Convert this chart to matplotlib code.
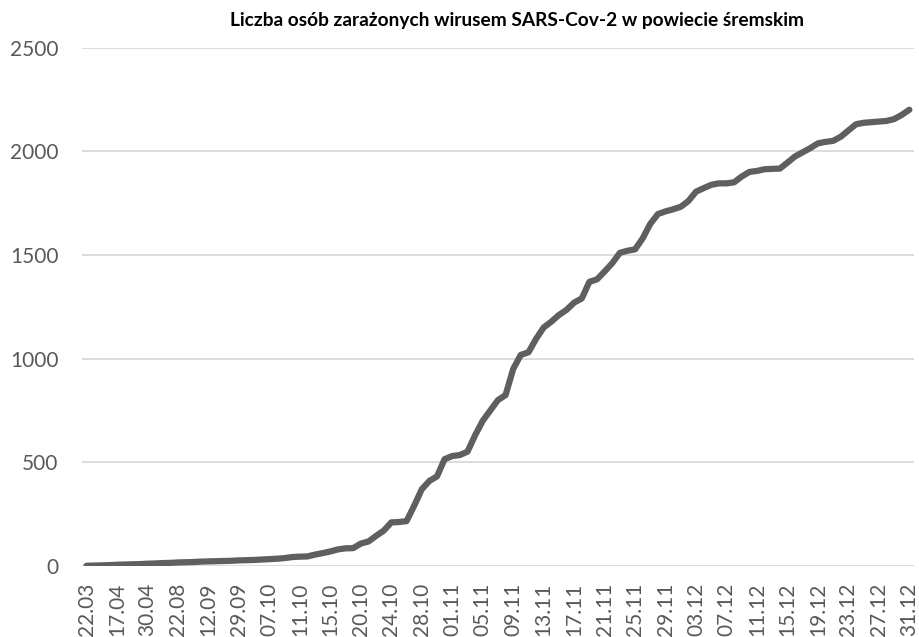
import matplotlib
matplotlib.use('Agg')
import matplotlib.pyplot as plt
from matplotlib.ticker import FixedLocator

title = 'Liczba osób zarażonych wirusem SARS-Cov-2 w powiecie śremskim'

# one label every 4th data row
tick_labels = ['22.03', '17.04', '30.04', '22.08', '12.09', '29.09', '07.10', '11.10',
               '15.10', '20.10', '24.10', '28.10', '01.11', '05.11', '09.11', '13.11',
               '17.11', '21.11', '25.11', '29.11', '03.12', '07.12', '11.12', '15.12',
               '19.12', '23.12', '27.12', '31.12']

cases = [1, 2, 3, 4, 6, 7, 8, 9, 11, 12, 14, 15, 17, 18, 19, 21,
         22, 23, 24, 25, 27, 28, 29, 31, 33, 35, 38, 43, 45, 46, 55, 62,
         70, 80, 85, 86, 108, 118, 145, 170, 210, 212, 216, 290, 370, 410,
         432, 515, 530, 535, 551, 630, 700, 750, 800, 824, 950, 1018, 1030,
         1095, 1150, 1178, 1210, 1235, 1270, 1290, 1370, 1382, 1420, 1460,
         1510, 1520, 1527, 1580, 1650, 1697, 1710, 1720, 1732, 1760, 1805,
         1822, 1838, 1845, 1845, 1850, 1878, 1900, 1905, 1913, 1915, 1916,
         1945, 1975, 1995, 2015, 2038, 2045, 2050, 2070, 2100, 2130, 2137,
         2140, 2143, 2146, 2155, 2175, 2200]

txt_color = '#595959'
line_color = '#5f5f5f'
grid_color = '#d9d9d9'

fig = plt.figure(figsize=(9.2, 6.37), dpi=100)
ax = fig.add_axes([0.0891, 0.1115, 0.9043, 0.8139])

x = list(range(len(cases)))
ax.plot(x, cases, color=line_color, linewidth=4.5, solid_capstyle='round',
        solid_joinstyle='round', zorder=3)

ax.set_ylim(0, 2500)
ax.set_xlim(-0.6, len(cases) - 1 + 0.6)
ax.set_yticks([0, 500, 1000, 1500, 2000, 2500])
ax.xaxis.set_major_locator(FixedLocator(list(range(0, len(cases), 4))))
ax.set_xticklabels(tick_labels, rotation=90)

ax.grid(axis='y', color=grid_color, linewidth=1.3)
ax.set_axisbelow(True)
for s in ax.spines.values():
    s.set_visible(False)
ax.tick_params(length=0, labelsize=15, labelcolor=txt_color, labelfontfamily='Lato')
ax.tick_params(axis='y', pad=17)
ax.tick_params(axis='x', pad=12)

fig.text(0.562, 0.968, title, ha='center', va='center', fontsize=13.8,
         fontweight='bold', family='Lato', color='black')

fig.savefig('out.png', dpi=100)
